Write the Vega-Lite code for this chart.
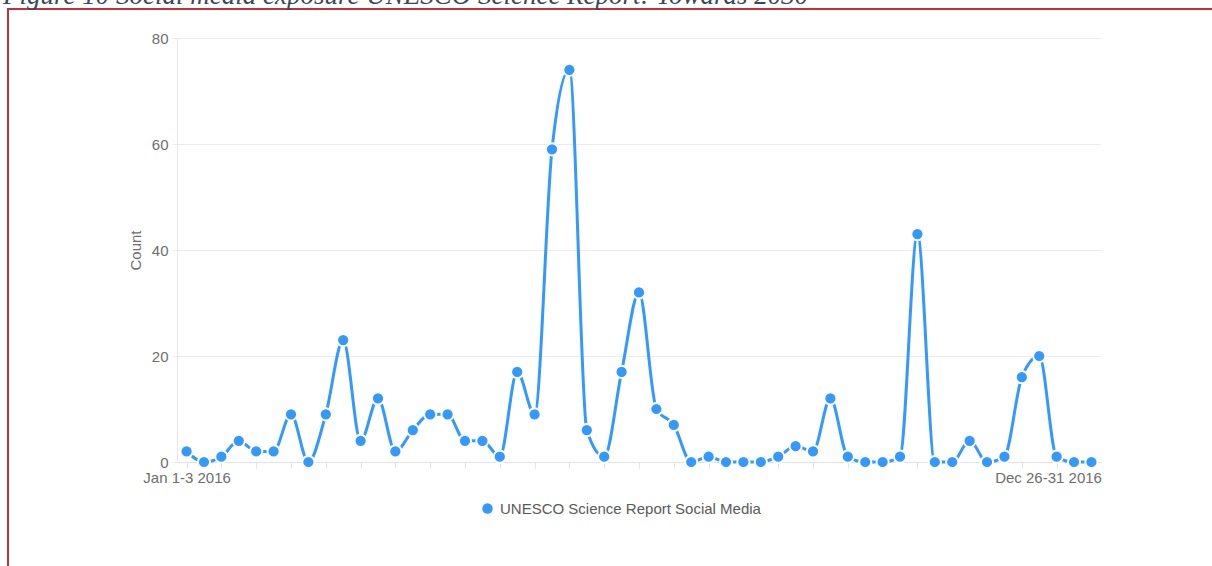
{
  "$schema": "https://vega.github.io/schema/vega-lite/v6.json",
  "width": 1204,
  "height": 557,
  "autosize": {"type": "none"},
  "padding": {"left": 8, "top": 9, "right": 0, "bottom": 0},
  "background": "white",
  "title": {
    "text": "Figure 10 Social media exposure UNESCO Science Report: Towards 2030",
    "anchor": "start",
    "frame": "group",
    "orient": "top",
    "offset": -22,
    "dx": -5,
    "font": "Liberation Serif",
    "fontStyle": "italic",
    "fontWeight": "normal",
    "fontSize": 27,
    "color": "#3b4857",
    "baseline": "alphabetic",
    "limit": 0
  },
  "config": {
    "view": {"stroke": "#c0313d", "strokeWidth": 2, "strokeDash": [1204, 1761, 557]},
    "font": "Liberation Sans"
  },
  "data": {
    "values": [
      {"week": "Jan 1-3 2016", "count": 2, "series": "UNESCO Science Report Social Media"},
      {"week": "Jan 4-10 2016", "count": 0, "series": "UNESCO Science Report Social Media"},
      {"week": "Jan 11-17 2016", "count": 1, "series": "UNESCO Science Report Social Media"},
      {"week": "Jan 18-24 2016", "count": 4, "series": "UNESCO Science Report Social Media"},
      {"week": "Jan 25-31 2016", "count": 2, "series": "UNESCO Science Report Social Media"},
      {"week": "Feb 1-7 2016", "count": 2, "series": "UNESCO Science Report Social Media"},
      {"week": "Feb 8-14 2016", "count": 9, "series": "UNESCO Science Report Social Media"},
      {"week": "Feb 15-21 2016", "count": 0, "series": "UNESCO Science Report Social Media"},
      {"week": "Feb 22-28 2016", "count": 9, "series": "UNESCO Science Report Social Media"},
      {"week": "Feb 29-Mar 6 2016", "count": 23, "series": "UNESCO Science Report Social Media"},
      {"week": "Mar 7-13 2016", "count": 4, "series": "UNESCO Science Report Social Media"},
      {"week": "Mar 14-20 2016", "count": 12, "series": "UNESCO Science Report Social Media"},
      {"week": "Mar 21-27 2016", "count": 2, "series": "UNESCO Science Report Social Media"},
      {"week": "Mar 28-Apr 3 2016", "count": 6, "series": "UNESCO Science Report Social Media"},
      {"week": "Apr 4-10 2016", "count": 9, "series": "UNESCO Science Report Social Media"},
      {"week": "Apr 11-17 2016", "count": 9, "series": "UNESCO Science Report Social Media"},
      {"week": "Apr 18-24 2016", "count": 4, "series": "UNESCO Science Report Social Media"},
      {"week": "Apr 25-May 1 2016", "count": 4, "series": "UNESCO Science Report Social Media"},
      {"week": "May 2-8 2016", "count": 1, "series": "UNESCO Science Report Social Media"},
      {"week": "May 9-15 2016", "count": 17, "series": "UNESCO Science Report Social Media"},
      {"week": "May 16-22 2016", "count": 9, "series": "UNESCO Science Report Social Media"},
      {"week": "May 23-29 2016", "count": 59, "series": "UNESCO Science Report Social Media"},
      {"week": "May 30-Jun 5 2016", "count": 74, "series": "UNESCO Science Report Social Media"},
      {"week": "Jun 6-12 2016", "count": 6, "series": "UNESCO Science Report Social Media"},
      {"week": "Jun 13-19 2016", "count": 1, "series": "UNESCO Science Report Social Media"},
      {"week": "Jun 20-26 2016", "count": 17, "series": "UNESCO Science Report Social Media"},
      {"week": "Jun 27-Jul 3 2016", "count": 32, "series": "UNESCO Science Report Social Media"},
      {"week": "Jul 4-10 2016", "count": 10, "series": "UNESCO Science Report Social Media"},
      {"week": "Jul 11-17 2016", "count": 7, "series": "UNESCO Science Report Social Media"},
      {"week": "Jul 18-24 2016", "count": 0, "series": "UNESCO Science Report Social Media"},
      {"week": "Jul 25-31 2016", "count": 1, "series": "UNESCO Science Report Social Media"},
      {"week": "Aug 1-7 2016", "count": 0, "series": "UNESCO Science Report Social Media"},
      {"week": "Aug 8-14 2016", "count": 0, "series": "UNESCO Science Report Social Media"},
      {"week": "Aug 15-21 2016", "count": 0, "series": "UNESCO Science Report Social Media"},
      {"week": "Aug 22-28 2016", "count": 1, "series": "UNESCO Science Report Social Media"},
      {"week": "Aug 29-Sep 4 2016", "count": 3, "series": "UNESCO Science Report Social Media"},
      {"week": "Sep 5-11 2016", "count": 2, "series": "UNESCO Science Report Social Media"},
      {"week": "Sep 12-18 2016", "count": 12, "series": "UNESCO Science Report Social Media"},
      {"week": "Sep 19-25 2016", "count": 1, "series": "UNESCO Science Report Social Media"},
      {"week": "Sep 26-Oct 2 2016", "count": 0, "series": "UNESCO Science Report Social Media"},
      {"week": "Oct 3-9 2016", "count": 0, "series": "UNESCO Science Report Social Media"},
      {"week": "Oct 10-16 2016", "count": 1, "series": "UNESCO Science Report Social Media"},
      {"week": "Oct 17-23 2016", "count": 43, "series": "UNESCO Science Report Social Media"},
      {"week": "Oct 24-30 2016", "count": 0, "series": "UNESCO Science Report Social Media"},
      {"week": "Oct 31-Nov 6 2016", "count": 0, "series": "UNESCO Science Report Social Media"},
      {"week": "Nov 7-13 2016", "count": 4, "series": "UNESCO Science Report Social Media"},
      {"week": "Nov 14-20 2016", "count": 0, "series": "UNESCO Science Report Social Media"},
      {"week": "Nov 21-27 2016", "count": 1, "series": "UNESCO Science Report Social Media"},
      {"week": "Nov 28-Dec 4 2016", "count": 16, "series": "UNESCO Science Report Social Media"},
      {"week": "Dec 5-11 2016", "count": 20, "series": "UNESCO Science Report Social Media"},
      {"week": "Dec 12-18 2016", "count": 1, "series": "UNESCO Science Report Social Media"},
      {"week": "Dec 19-25 2016", "count": 0, "series": "UNESCO Science Report Social Media"},
      {"week": "Dec 26-31 2016", "count": 0, "series": "UNESCO Science Report Social Media"}
    ]
  },
  "encoding": {
    "x": {
      "field": "week",
      "type": "ordinal",
      "sort": null,
      "scale": {"type": "point", "range": [169, 1093], "padding": 0.55},
      "axis": {
        "title": null,
        "values": ["Jan 1-3 2016", "Jan 11-17 2016", "Jan 25-31 2016", "Feb 8-14 2016", "Feb 22-28 2016", "Mar 7-13 2016", "Mar 21-27 2016", "Apr 4-10 2016", "Apr 18-24 2016", "May 2-8 2016", "May 16-22 2016", "May 30-Jun 5 2016", "Jun 13-19 2016", "Jun 27-Jul 3 2016", "Jul 11-17 2016", "Jul 25-31 2016", "Aug 8-14 2016", "Aug 22-28 2016", "Sep 5-11 2016", "Sep 19-25 2016", "Oct 3-9 2016", "Oct 17-23 2016", "Oct 31-Nov 6 2016", "Nov 14-20 2016", "Nov 28-Dec 4 2016", "Dec 12-18 2016", "Dec 26-31 2016"],
        "labelExpr": "datum.value == 'Jan 1-3 2016' || datum.value == 'Dec 26-31 2016' ? datum.value : ''",
        "offset": -104,
        "grid": false,
        "domainColor": "#e3e3e3",
        "tickColor": "#e3e3e3",
        "tickSize": 6,
        "labelPadding": 2,
        "labelAngle": 0,
        "labelFont": "Liberation Sans",
        "labelFontSize": 15,
        "labelColor": "#6e6e6e",
        "labelOverlap": false,
        "labelBound": false,
        "labelAlign": {"condition": {"test": "datum.value == 'Dec 26-31 2016'", "value": "right"}, "value": "center"},
        "labelOffset": {"condition": {"test": "datum.value == 'Dec 26-31 2016'", "value": 10}, "value": 0}
      }
    },
    "y": {
      "field": "count",
      "type": "quantitative",
      "scale": {"domain": [0, 80], "range": [453, 29], "nice": false},
      "axis": {
        "values": [0, 20, 40, 60, 80],
        "offset": -169,
        "grid": true,
        "gridColor": "#ececec",
        "domain": true,
        "domainColor": "#e6e6e6",
        "ticks": true,
        "tickSize": 5,
        "tickColor": "#ececec",
        "labelPadding": 4,
        "labelFont": "Liberation Sans",
        "labelFontSize": 15,
        "labelColor": "#6e6e6e",
        "title": "Count",
        "titleFont": "Liberation Sans",
        "titleFontSize": 15,
        "titleFontWeight": "normal",
        "titleColor": "#6e6e6e",
        "titlePadding": 8
      }
    }
  },
  "layer": [
    {
      "mark": {"type": "line", "interpolate": "monotone", "color": "#3399ff", "strokeWidth": 3}
    },
    {
      "mark": {"type": "point", "filled": true, "opacity": 1, "size": 150, "stroke": "white", "strokeWidth": 2},
      "encoding": {
        "color": {
          "field": "series",
          "type": "nominal",
          "scale": {"range": ["#3399ff"]},
          "legend": {
            "title": null,
            "orient": "none",
            "legendX": 472,
            "legendY": 492,
            "padding": 0,
            "symbolType": "circle",
            "symbolSize": 110,
            "symbolStrokeWidth": 0,
            "symbolOpacity": 1,
            "labelOffset": 5,
            "labelLimit": 0,
            "labelFont": "Liberation Sans",
            "labelFontSize": 15,
            "labelColor": "#5a5a5a"
          }
        }
      }
    }
  ]
}
